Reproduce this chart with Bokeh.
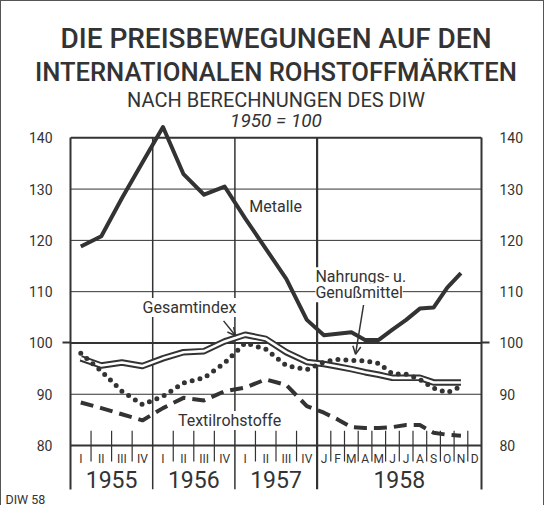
from bokeh.plotting import figure
from bokeh.models import Range1d, LinearAxis, FixedTicker, Span, Label, Arrow, OpenHead, Title
from bokeh.embed import file_html
from bokeh.resources import INLINE
from bokeh.core.properties import value

FONT = "Roboto"
TITLE_FONT = "Roboto Medium"
INK = "#333333"

# ---------------- data ----------------
years = ["1955", "1956", "1957", "1958"]
quarter_labels = ["I", "II", "III", "IV"]
month_labels = ["J", "F", "M", "A", "M", "J", "J", "A", "S", "O", "N", "D"]

# 12 quarters (1955-1957) followed by 11 months of 1958 (Jan-Nov)
metalle = [118.8, 120.8, 128.2, 135.2, 142.1, 132.9, 128.9, 130.5, 124.3, 118.4, 112.5, 104.5,
           101.5, 101.8, 102.1, 100.6, 100.6, 102.6, 104.5, 106.7, 106.9, 110.8, 113.6]
gesamtindex = [97.0, 95.6, 96.2, 95.5, 97.0, 98.2, 98.4, 100.3, 101.6, 100.8, 98.2, 96.3,
               95.9, 95.4, 94.9, 94.3, 93.8, 93.2, 93.2, 93.2, 92.3, 92.3, 92.3]
nahrung = [98.0, 94.5, 90.6, 88.0, 89.6, 92.2, 93.2, 96.1, 100.0, 98.8, 95.6, 94.8,
           96.3, 96.8, 96.6, 96.5, 96.0, 94.0, 93.9, 92.9, 91.2, 90.3, 91.5]
textil = [88.4, 87.3, 86.1, 84.9, 87.3, 89.3, 88.8, 90.6, 91.3, 92.9, 91.8, 87.7,
          86.4, 85.1, 83.6, 83.4, 83.4, 83.6, 84.0, 84.0, 82.5, 82.1, 81.9]

y_ticks = [80, 90, 100, 110, 120, 130, 140]
thin_grid = [90, 110, 120, 130]
heavy_grid = [80, 100, 140]

title_lines = ["DIE PREISBEWEGUNGEN AUF DEN", "INTERNATIONALEN ROHSTOFFMÄRKTEN"]
subtitle = "NACH BERECHNUNGEN DES DIW"
base_note = "1950 = 100"
source_note = "DIW 58"

# ---------------- x positions (quarter units; 1958 is twice as wide, monthly) ----------------
Q_YEARS = 3
MONTH_W = 8 / 12


def xpos(i):
    if i < 4 * Q_YEARS:
        return i + 0.5
    return 4 * Q_YEARS + (i - 4 * Q_YEARS + 0.5) * MONTH_W


xs = [xpos(i) for i in range(len(metalle))]
x_end = 4 * Q_YEARS + 12 * MONTH_W
x_mid = x_end / 2

year_bounds = [4, 8, 12]
year_centers = [2, 6, 10, 4 * Q_YEARS + 6 * MONTH_W]
tick_bounds = [y * 4 + q for y in range(Q_YEARS) for q in (1, 2, 3)] + \
              [4 * Q_YEARS + k * MONTH_W for k in range(1, 12)]
period_x = [y * 4 + q + 0.5 for y in range(Q_YEARS) for q in range(4)] + \
           [4 * Q_YEARS + (k + 0.5) * MONTH_W for k in range(12)]
period_text = quarter_labels * Q_YEARS + month_labels

Y_BOTTOM = 71.43
Y_TOP = 150.0

# ---------------- figure ----------------
p = figure(width=544, height=505, x_range=Range1d(0, x_end), y_range=Range1d(Y_BOTTOM, Y_TOP),
           output_backend="svg", toolbar_location=None, x_axis_type=None, y_axis_type=None,
           min_border_left=69, min_border_right=64, min_border_top=0, min_border_bottom=0,
           background_fill_color="white", border_fill_color="white")
p.outline_line_color = None
p.xgrid.visible = False
p.ygrid.visible = False
p.styles = {"border-left": "1px solid #555", "border-top": "1px solid #555",
            "border-right": "1px solid #555"}

for loc in ("left", "right"):
    ax = LinearAxis(ticker=FixedTicker(ticks=y_ticks, minor_ticks=[100]), bounds=(Y_BOTTOM, 140))
    ax.major_tick_in = 0
    ax.major_tick_out = 0
    ax.major_tick_line_color = None
    ax.minor_tick_in = 0
    ax.minor_tick_out = 8
    ax.minor_tick_line_width = 2
    ax.minor_tick_line_color = INK
    ax.axis_line_width = 2
    ax.axis_line_color = INK
    ax.major_label_text_font = FONT
    ax.major_label_text_font_size = "14px"
    ax.major_label_text_color = INK
    ax.major_label_standoff = 10
    p.add_layout(ax, loc)

for v in thin_grid:
    p.add_layout(Span(location=v, dimension="width", line_color=INK, line_width=1, level="underlay"))
for v in heavy_grid:
    p.add_layout(Span(location=v, dimension="width", line_color=INK, line_width=2, level="underlay"))
p.segment(x0=year_bounds, x1=year_bounds, y0=[Y_BOTTOM] * 3, y1=[140] * 3,
          line_color=INK, line_width=[1.5, 1.5, 2.2], level="underlay")

# tick marks at quarter / month boundaries
p.segment(x0=tick_bounds, x1=tick_bounds, y0=[82.9] * len(tick_bounds), y1=[76.9] * len(tick_bounds),
          line_color=INK, line_width=1.2)

# period labels and year labels
p.text(x=period_x, y=[77.3] * len(period_x), text=period_text, text_font=value(FONT),
       text_font_size="12px", text_align="center", text_baseline="middle", text_color=INK)
p.text(x=year_centers, y=[73.4] * len(year_centers), text=years, text_font=value(FONT),
       text_font_size="23px", text_align="center", text_baseline="middle", text_color=INK)

# series
p.line(xs, textil, line_width=4, line_color=INK, line_dash="13 7")
p.line(xs, gesamtindex, line_width=6.5, line_color=INK, line_join="round")
p.line(xs, gesamtindex, line_width=2.6, line_color="white", line_join="round")
p.line(xs, nahrung, line_width=5, line_color=INK, line_dash="0 8", line_cap="round")
p.line(xs, metalle, line_width=4, line_color=INK, line_join="round")


def lab(x, y, text, align="center", size="16px", font=FONT, style="normal", bg="white"):
    p.add_layout(Label(x=x, y=y, text=text, text_font=font, text_font_size=size,
                       text_font_style=style, text_align=align, text_baseline="middle",
                       text_color=INK, background_fill_color=bg, level="overlay"))


# series labels
lab(9.98, 126.6, "Metalle")
lab(11.92, 112.9, "Nahrungs- u.", "left")
lab(11.92, 109.8, "Genußmittel", "left")
lab(5.79, 106.9, "Gesamtindex")
lab(7.74, 84.9, "Textilrohstoffe")

p.add_layout(Arrow(end=OpenHead(size=8, line_width=1.5, line_color=INK), x_start=7.45, y_start=104.3,
                   x_end=8.03, y_end=101.4, line_width=1.5, line_color=INK))
p.add_layout(Arrow(end=OpenHead(size=8, line_width=1.5, line_color=INK), x_start=14.26, y_start=107.4,
                   x_end=13.87, y_end=97.8, line_width=1.5, line_color=INK))

# sub-title lines inside the top of the frame
lab(x_mid, 147.4, subtitle, size="20px", bg=None)
lab(x_mid, 143.3, base_note, size="19px", style="italic", bg=None)

# main title lines (added bottom-up)
p.add_layout(Title(text=title_lines[1], text_font=TITLE_FONT, text_font_size="25.6px",
                   align="center", text_color=INK, standoff=0), "above")
p.add_layout(Title(text=title_lines[0], text_font=TITLE_FONT, text_font_size="28px",
                   align="center", text_color=INK, standoff=0), "above")
p.add_layout(Title(text=" ", text_font=FONT, text_font_size="12px", align="center", standoff=2), "above")

p.add_layout(Title(text=source_note, text_font=FONT, text_font_size="12.5px", text_font_style="normal",
                   align="left", offset=-65, text_color=INK, standoff=0), "below")

open("out.html", "w").write(file_html(p, INLINE))
